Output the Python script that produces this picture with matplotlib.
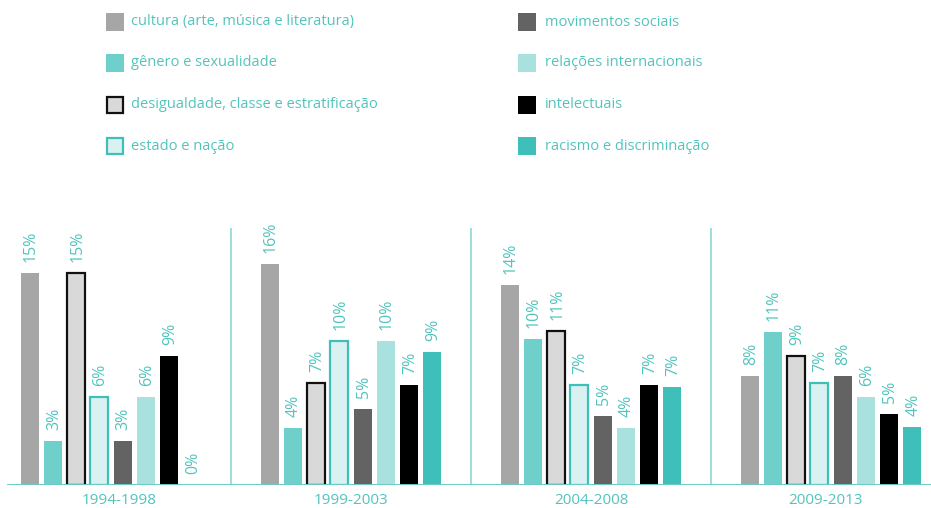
import numpy as np
import matplotlib as mpl
import matplotlib.pyplot as plt
from matplotlib.patches import Rectangle

mpl.rcParams.update({
    "font.family": ["Open Sans", "DejaVu Sans"],
    "savefig.dpi": 100,
})

periods = ["1994-1998", "1999-2003", "2004-2008", "2009-2013"]
themes = [
    "cultura (arte, música e literatura)",
    "gênero e sexualidade",
    "desigualdade, classe e estratificação",
    "estado e nação",
    "movimentos sociais",
    "relações internacionais",
    "intelectuais",
    "racismo e discriminação",
]
# percent per theme, one list per period
v_1994 = [15.0, 3.1, 15.0, 6.2, 3.1, 6.2, 9.1, 0.0]
v_1999 = [15.6, 4.0, 7.2, 10.2, 5.4, 10.2, 7.1, 9.4]
v_2004 = [14.1, 10.3, 10.9, 7.1, 4.9, 4.0, 7.1, 6.9]
v_2009 = [7.7, 10.8, 9.1, 7.2, 7.7, 6.2, 5.0, 4.1]
values = np.array([v_1994, v_1999, v_2004, v_2009])

faces = ["#a6a6a6", "#6ecfcb", "#d9d9d9", "#d9f1f1",
         "#636363", "#a9e1df", "#000000", "#3fbfba"]
edges = [None, None, "#111111", "#3fbfba", None, None, None, None]
teal = "#52c4bd"

W, H = 931, 508
fig = plt.figure(figsize=(W / 100, H / 100), dpi=100)

# chart axes: spans full width, baseline at y=485px, top at y=228px
base_px, top_px = 485, 228
ax = fig.add_axes([0, (H - base_px) / H, 1, (base_px - top_px) / H])
px_per_unit = 240.0
x0_px = 111.0
ax.set_xlim(-x0_px / px_per_unit, (W - x0_px) / px_per_unit)
ax.set_ylim(0, (base_px - top_px) / 14.15)
ax.axis("off")

pitch = 23.2 / px_per_unit
width = 18 / px_per_unit
for j, name in enumerate(themes):
    xs = np.arange(len(periods)) + (j - 3.5) * pitch
    ys = values[:, j]
    kw = dict(color=faces[j], width=width, zorder=3)
    if edges[j]:
        kw.update(edgecolor=edges[j], linewidth=1.6)
    else:
        kw.update(linewidth=0)
    ax.bar(xs, ys, **kw)
    for x, y in zip(xs, ys):
        ax.annotate(f"{y:.0f}%", (x, y), xytext=(1, 11),
                    textcoords="offset pixels", rotation=90,
                    ha="center", va="bottom", color=teal, fontsize=11.5)

# baseline and separators
ax.axhline(0, xmin=8 / W, xmax=1, color="#6ccbc6", lw=1.4, zorder=4)
for d in [0.5, 1.5, 2.5]:
    ax.axvline(d, ymin=0, ymax=1, color="#8fd8d4", lw=1.2, zorder=1)

# period labels centered on visible segments
seg = [(8 - x0_px) / px_per_unit, 0.5, 1.5, 2.5, (939 - x0_px) / px_per_unit]
for i, p in enumerate(periods):
    xc = (seg[i] + seg[i + 1]) / 2
    ax.annotate(p, (xc, 0), xycoords=("data", "data"), xytext=(0, -16),
                textcoords="offset pixels", ha="center", va="center",
                color=teal, fontsize=11)

# legend drawn in pixel coordinates
lax = fig.add_axes([0, 0, 1, 1], zorder=-1)
lax.set_xlim(0, W)
lax.set_ylim(H, 0)
lax.axis("off")
rows = [22, 63, 105, 146]
cols = [(106, 131), (518, 545)]
for j, name in enumerate(themes):
    c, r = divmod(j, 4)
    px, tx = cols[c]
    cy = rows[r]
    if edges[j]:
        lax.add_patch(Rectangle((px + 1, cy - 8), 16, 16, facecolor=faces[j],
                                edgecolor=edges[j], linewidth=1.6))
    else:
        lax.add_patch(Rectangle((px, cy - 9), 18, 18, facecolor=faces[j],
                                edgecolor="none"))
    lax.text(tx, cy, name, ha="left", va="center", color=teal, fontsize=10.5)

fig.savefig("out.png", dpi=100)
